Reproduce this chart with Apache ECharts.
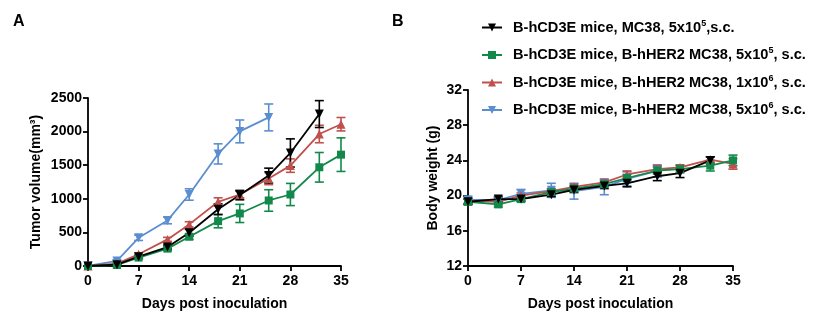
<!DOCTYPE html>
<html><head><meta charset="utf-8">
<script src="https://cdn.jsdelivr.net/npm/echarts@6/dist/echarts.min.js"></script>
<style>html,body{margin:0;padding:0;background:#fff}#c{width:817px;height:326px}</style>
</head><body><div id="c"></div>
<script>
// ---- data ----
const days = [0, 4, 7, 11, 14, 18, 21, 25, 28, 32, 35];
const xTicks = [0, 7, 14, 21, 28, 35];
const names = [
  'B-hCD3E mice, MC38, 5x10^5,s.c.',
  'B-hCD3E mice, B-hHER2 MC38, 5x10^5, s.c.',
  'B-hCD3E mice, B-hHER2 MC38, 1x10^6, s.c.',
  'B-hCD3E mice, B-hHER2 MC38, 5x10^6, s.c.'
];
// Tumor volume (mm3), mean and SEM
const volBlack = [0, 20, 139, 282, 495, 845, 1055, 1346, 1682, 2261];
const volBlackErr = [0, 10, 20, 30, 50, 80, 70, 110, 210, 200];
const volGreen = [0, 15, 125, 258, 436, 668, 782, 975, 1064, 1469, 1657];
const volGreenErr = [0, 10, 20, 30, 40, 100, 135, 160, 165, 220, 250];
const volRed = [0, 35, 174, 396, 619, 955, 1064, 1301, 1494, 1964, 2110];
const volRedErr = [0, 10, 20, 30, 40, 60, 50, 90, 100, 130, 100];
const volBlue = [0, 75, 420, 678, 1064, 1668, 2003, 2211];
const volBlueErr = [0, 20, 40, 50, 85, 150, 170, 200];
// Body weight (g)
const bwBlack = [19.3, 19.6, 19.6, 20.1, 20.65, 21.1, 21.4, 22.2, 22.55, 24.0];
const bwBlackErr = [0.3, 0.3, 0.2, 0.2, 0.3, 0.3, 0.4, 0.5, 0.5, 0.4];
const bwGreen = [19.3, 19.0, 19.6, 20.4, 20.8, 21.3, 22.0, 22.85, 23.0, 23.4, 24.0];
const bwGreenErr = [0.3, 0.3, 0.3, 0.3, 0.3, 0.3, 0.4, 0.4, 0.4, 0.6, 0.6];
const bwRed = [19.4, 19.3, 20.0, 20.5, 21.0, 21.5, 22.4, 23.0, 23.2, 24.1, 23.6];
const bwRedErr = [0.3, 0.3, 0.3, 0.3, 0.3, 0.3, 0.4, 0.4, 0.3, 0.3, 0.6];
const bwBlue = [19.5, 19.5, 20.2, 20.6, 20.5, 21.0, 21.9, 22.8];
const bwBlueErr = [0.4, 0.3, 0.5, 0.8, 0.9, 0.9, 0.8, 0.7];

const colors = ['#000000', '#12894a', '#c0504d', '#5b8ed1'];
const symbols = ['path://M0,0L10,0L5,10Z', 'rect', 'triangle', 'path://M0,0L10,0L5,10Z'];
const FONT = 'Liberation Sans, Arial, sans-serif';

function pts(vals) { return vals.map((v, i) => [days[i], v]); }
function errPts(vals, errs) { return vals.map((v, i) => [days[i], v, errs[i]]); }

function lineSeries(idx, vals, axisIdx) {
  return {
    type: 'line', name: names[idx], xAxisIndex: axisIdx, yAxisIndex: axisIdx,
    data: pts(vals), symbol: symbols[idx], symbolSize: idx === 1 ? 8 : 9,
    lineStyle: { color: colors[idx], width: 1.8 },
    itemStyle: { color: colors[idx] }, z: 3, animation: false
  };
}
function errSeries(idx, vals, errs, axisIdx) {
  return {
    type: 'custom', xAxisIndex: axisIdx, yAxisIndex: axisIdx, z: 2,
    data: errPts(vals, errs), animation: false, silent: true,
    renderItem: function (params, api) {
      const x = api.value(0), y = api.value(1), e = api.value(2);
      const top = api.coord([x, y + e]);
      const bot = api.coord([x, y - e]);
      const w = 4.5;
      const st = { stroke: colors[idx], lineWidth: 1.6 };
      return {
        type: 'group', children: [
          { type: 'line', shape: { x1: top[0], y1: top[1], x2: bot[0], y2: bot[1] }, style: st },
          { type: 'line', shape: { x1: top[0] - w, y1: top[1], x2: top[0] + w, y2: top[1] }, style: st },
          { type: 'line', shape: { x1: bot[0] - w, y1: bot[1], x2: bot[0] + w, y2: bot[1] }, style: st }
        ]
      };
    }
  };
}

const axisLineStyle = { show: true, lineStyle: { color: '#000', width: 1.8 } };
const tickStyle = { show: true, length: 5, lineStyle: { color: '#000', width: 1.8 } };
const labelStyle = { color: '#000', fontWeight: 'bold', fontSize: 14, fontFamily: FONT, formatter: function (v) { return String(v); } };
const nameStyle = { color: '#000', fontWeight: 'bold', fontSize: 14, fontFamily: FONT };

function xAxis(grid) {
  return {
    type: 'value', gridIndex: grid, min: 0, max: 35, interval: 7,
    axisLine: axisLineStyle, axisTick: tickStyle, splitLine: { show: false },
    axisLabel: Object.assign({ margin: 8 }, labelStyle),
    name: 'Days post inoculation', nameLocation: 'middle', nameGap: 31, nameTextStyle: nameStyle
  };
}

const option = {
  animation: false,
  textStyle: { fontFamily: FONT },
  grid: [
    { left: 88, top: 98, width: 253, height: 168 },
    { left: 468, top: 90, width: 265, height: 176 }
  ],
  xAxis: [xAxis(0), xAxis(1)],
  yAxis: [
    {
      type: 'value', gridIndex: 0, min: 0, max: 2500, interval: 500,
      axisLine: axisLineStyle, axisTick: tickStyle, splitLine: { show: false },
      axisLabel: Object.assign({ margin: 6 }, labelStyle),
      name: 'Tumor volume(mm³)', nameLocation: 'middle', nameGap: 45, nameTextStyle: nameStyle
    },
    {
      type: 'value', gridIndex: 1, min: 12, max: 32, interval: 4,
      axisLine: axisLineStyle, axisTick: tickStyle, splitLine: { show: false },
      axisLabel: Object.assign({ margin: 6 }, labelStyle),
      name: 'Body weight (g)', nameLocation: 'middle', nameGap: 28, nameTextStyle: nameStyle
    }
  ],
  legend: {
    left: 476, top: 14, orient: 'vertical', itemGap: 8.5, itemWidth: 20, itemHeight: 10,
    data: names,
    formatter: function (n) {
      const m = n.split('^');
      const sup = m[1].charAt(0);
      return '{n|' + m[0] + '}{s|' + sup + '}{n|' + m[1].slice(1) + '}';
    },
    textStyle: {
      padding: [0, 0, 0, 6],
      rich: {
        n: { fontSize: 14.6, fontWeight: 'bold', color: '#000', fontFamily: FONT, lineHeight: 17 },
        s: { fontSize: 9, fontWeight: 'bold', color: '#000', fontFamily: FONT, verticalAlign: 'top', lineHeight: 17, padding: [0, 0, 10, 0] }
      }
    }
  },
  graphic: [
    { type: 'text', left: 13, top: 14, style: { text: 'A', font: 'bold 16px ' + FONT, fill: '#000' } },
    { type: 'text', left: 392, top: 14, style: { text: 'B', font: 'bold 16px ' + FONT, fill: '#000' } }
  ],
  series: [
    errSeries(3, volBlue, volBlueErr, 0),
    errSeries(2, volRed, volRedErr, 0),
    errSeries(1, volGreen, volGreenErr, 0),
    errSeries(0, volBlack, volBlackErr, 0),
    lineSeries(3, volBlue, 0),
    lineSeries(2, volRed, 0),
    lineSeries(1, volGreen, 0),
    lineSeries(0, volBlack, 0),
    errSeries(3, bwBlue, bwBlueErr, 1),
    errSeries(2, bwRed, bwRedErr, 1),
    errSeries(1, bwGreen, bwGreenErr, 1),
    errSeries(0, bwBlack, bwBlackErr, 1),
    lineSeries(3, bwBlue, 1),
    lineSeries(2, bwRed, 1),
    lineSeries(1, bwGreen, 1),
    lineSeries(0, bwBlack, 1)
  ]
};
const chart = echarts.init(document.getElementById('c'));
chart.setOption(option);
</script></body></html>
